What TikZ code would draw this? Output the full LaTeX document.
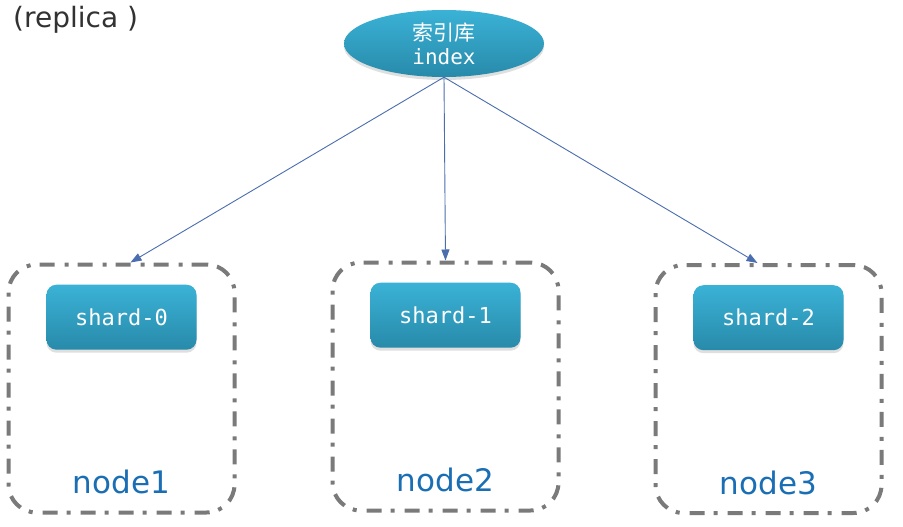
\documentclass[tikz,border=0pt]{standalone}
\usepackage{fontspec}
\setmainfont{DejaVu Sans}
\setmonofont{DejaVu Sans Mono}
\newfontfamily\cjk{Noto Sans CJK SC}
\usetikzlibrary{arrows.meta,positioning,shapes.geometric,shadows}
\definecolor{tealtop}{RGB}{58,178,214}
\definecolor{tealbot}{RGB}{40,138,170}
\definecolor{hostgray}{RGB}{122,122,122}
\definecolor{linkblue}{RGB}{74,110,175}
\definecolor{labelblue}{RGB}{26,110,180}
\definecolor{textgray}{RGB}{50,50,50}

\begin{document}
\begin{tikzpicture}[x=1pt,y=-1pt,node distance=22pt,
    shard/.style={rectangle,rounded corners=10pt,minimum width=150pt,minimum height=65pt,
      top color=tealtop,bottom color=tealbot,text=white,
      font=\fontsize{22}{24}\selectfont\ttfamily,
      drop shadow={shadow xshift=0pt,shadow yshift=-3pt,opacity=0.25}},
    libnode/.style={ellipse,minimum width=200pt,minimum height=67pt,inner sep=0pt,
      top color=tealtop,bottom color=tealbot,text=white,align=center,
      font=\fontsize{21}{24}\selectfont\ttfamily,
      drop shadow={shadow xshift=0pt,shadow yshift=-3pt,opacity=0.25}},
    host/.style={rectangle,draw=hostgray,line width=4pt,rounded corners=28pt,
      dash pattern=on 15pt off 9pt on 4pt off 10pt,
      minimum width=226pt,minimum height=248pt},
    hostlabel/.style={text=labelblue,font=\fontsize{31}{34}\selectfont,inner sep=0pt},
    link/.style={color=linkblue,line width=0.9pt,-{Triangle[length=11pt,width=8pt]}}]
  \path[use as bounding box,fill=white] (0,0) rectangle (903,527);

  \node[anchor=west,inner sep=0pt,text=textgray,font=\fontsize{28}{30}\selectfont]
    (title) at (13,20) {(replica )};

  \node[libnode] (lib) at (444,43.5) {{\cjk 索引库}\\index};

  \node[host] (host1) at (121.5,388.5) {};
  \node[host] (host2) at (445.5,386.5) {};
  \node[host] (host3) at (768.5,389)   {};

  \node[shard,below=of host1.north] (shard0) {shard-0};
  \node[shard,below=of host2.north] (shard1) {shard-1};
  \node[shard,below=of host3.north] (shard2) {shard-2};

  \node[hostlabel,above=20pt of host1.south] (lbl1) {node1};
  \node[hostlabel,above=20pt of host2.south] (lbl2) {node2};
  \node[hostlabel,above=20pt of host3.south] (lbl3) {node3};

  \draw[link] (lib.south) -- ([xshift=9pt]host1.north);
  \draw[link] (lib.south) -- (host2.north);
  \draw[link] (lib.south) -- ([xshift=-11pt]host3.north);
\end{tikzpicture}
\end{document}
